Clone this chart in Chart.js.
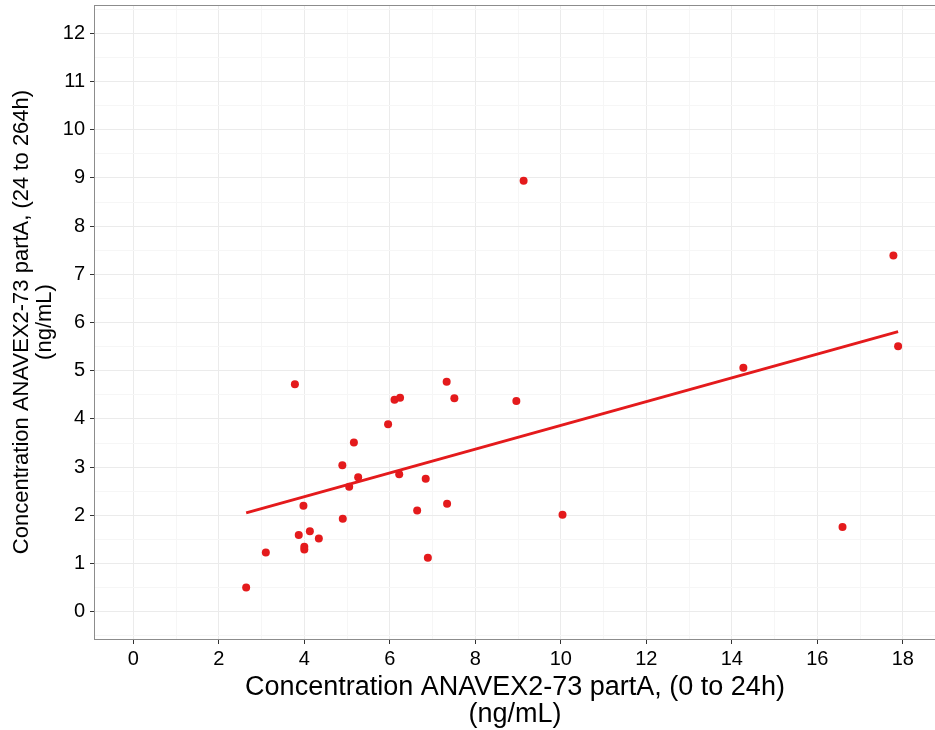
<!DOCTYPE html>
<html><head><meta charset="utf-8">
<script src="https://cdn.jsdelivr.net/npm/chart.js@4.4.1/dist/chart.umd.min.js"></script>
<style>html,body{margin:0;padding:0;background:#fff;overflow:hidden}#wrap{width:935px;height:730px}</style>
</head><body><div id="wrap"><canvas id="c" width="935" height="730"></canvas></div>
<script>
const xValues = [2.64, 3.10, 3.78, 3.98, 3.87, 4.13, 4.34, 4.00, 4.00, 4.89, 4.90, 5.16, 5.05, 5.26, 5.96, 6.11, 6.24, 6.22, 6.84, 6.64, 6.89, 7.33, 7.34, 7.51, 8.96, 10.04, 9.13, 14.27, 17.78, 17.89, 16.59];
const yValues = [0.50, 1.23, 4.72, 2.20, 1.59, 1.67, 1.52, 1.35, 1.29, 3.04, 1.93, 3.51, 2.59, 2.79, 3.89, 4.40, 4.44, 2.85, 2.76, 2.10, 1.12, 4.77, 2.24, 4.43, 4.37, 2.01, 8.94, 5.06, 7.39, 5.51, 1.76];
// Fitted line end points
const fitX = [2.64, 17.89];
const fitY = [2.05, 5.81];
// Tick labels
const xTickLabels = [0, 2, 4, 6, 8, 10, 12, 14, 16, 18];
const xMinorTicks = [1, 3, 5, 7, 9, 11, 13, 15, 17];
const yTickLabels = [0, 1, 2, 3, 4, 5, 6, 7, 8, 9, 10, 11, 12];
const yMinorTicks = [-0.5, 0.5, 1.5, 2.5, 3.5, 4.5, 5.5, 6.5, 7.5, 8.5, 9.5, 10.5, 11.5, 12.5];
const xTitle = ['Concentration ANAVEX2-73 partA, (0 to 24h)', '(ng/mL)'];
const yTitle = ['Concentration ANAVEX2-73 partA, (24 to 264h)', '(ng/mL)'];

const RED = '#E41A1C';
const FONT = '"Liberation Sans", Arial, sans-serif';

const scatterData = xValues.map((x, i) => ({x: x, y: yValues[i]}));
const fitData = fitX.map((x, i) => ({x: x, y: fitY[i]}));

const allX = xTickLabels.concat(xMinorTicks).sort((a, b) => a - b);
const allY = yTickLabels.concat(yMinorTicks).sort((a, b) => a - b);

const panelBorder = {
  id: 'panelBorder',
  afterDraw(chart) {
    const {ctx, chartArea: a} = chart;
    ctx.save();
    ctx.strokeStyle = '#8c8c8c';
    ctx.lineWidth = 1;
    ctx.strokeRect(a.left - 0.5, a.top + 0.5, a.right - a.left + 2, a.bottom - a.top);
    ctx.restore();
  }
};

function gridOpts(majors) {
  return {
    color: c => (c.tick && majors.includes(c.tick.value)) ? '#EBEBEB' : '#F6F6F6',
    tickColor: c => (c.tick && majors.includes(c.tick.value)) ? '#333333' : 'rgba(0,0,0,0)',
    lineWidth: 1,
    tickWidth: 1,
    tickLength: 5,
    drawTicks: true
  };
}

new Chart(document.getElementById('c'), {
  type: 'scatter',
  data: {
    datasets: [
      {
        type: 'line', data: fitData, borderColor: RED, borderWidth: 3,
        pointRadius: 0, fill: false, showLine: true, order: 0
      },
      {
        type: 'scatter', data: scatterData, backgroundColor: RED, borderWidth: 0,
        pointRadius: 4, order: 1
      }
    ]
  },
  plugins: [panelBorder],
  options: {
    responsive: false,
    animation: false,
    devicePixelRatio: 1,
    layout: {autoPadding: false, padding: {top: 5, right: 0, left: 0, bottom: 0}},
    plugins: {legend: {display: false}, tooltip: {enabled: false}},
    scales: {
      x: {
        type: 'linear', min: -0.896, max: 18.753,
        afterBuildTicks: s => { s.ticks = allX.map(v => ({value: v})); },
        afterFit: s => { s.height = 91; s.paddingLeft = 0; s.paddingRight = 0; },
        grid: gridOpts(xTickLabels),
        border: {display: false},
        ticks: {
          autoSkip: false, maxRotation: 0, padding: 3, color: '#000',
          font: {size: 20, family: FONT},
          callback: v => xTickLabels.includes(v) ? String(v) : ''
        },
        title: {
          display: true, text: xTitle, color: '#000',
          font: {size: 27, family: FONT, lineHeight: 1.0},
          padding: {top: 0, bottom: 1.5}
        }
      },
      y: {
        type: 'linear', min: -0.566, max: 12.587,
        afterBuildTicks: s => { s.ticks = allY.map(v => ({value: v})); },
        afterFit: s => { s.width = 95; s.paddingTop = 0; s.paddingBottom = 0; },
        grid: gridOpts(yTickLabels),
        border: {display: false},
        ticks: {
          autoSkip: false, padding: 5, color: '#000',
          font: {size: 20, family: FONT},
          callback: v => yTickLabels.includes(v) ? String(v) : ''
        },
        title: {
          display: true, text: yTitle, color: '#000',
          font: {size: 22, family: FONT, lineHeight: 1.05},
          padding: {top: 10.5, bottom: 0}
        }
      }
    }
  }
});
</script>
</body></html>
